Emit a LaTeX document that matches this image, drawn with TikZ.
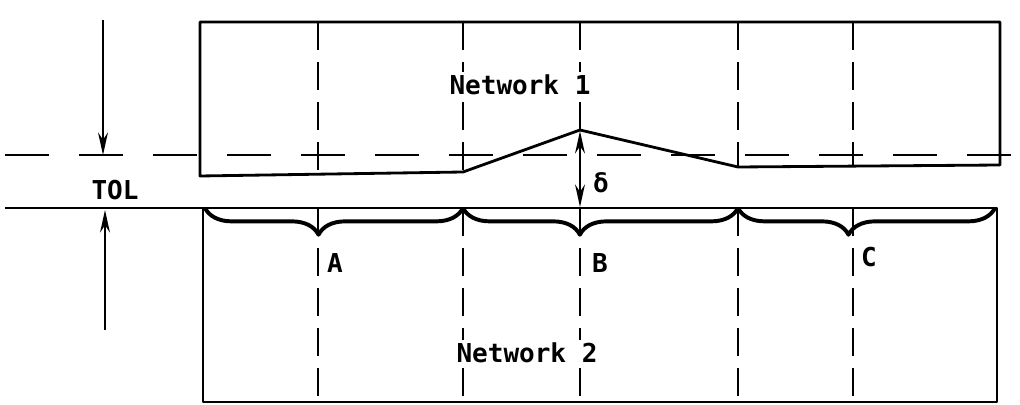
\documentclass[tikz,border=0pt]{standalone}
\usepackage{fontspec}
\setmonofont{DejaVu Sans Mono}
\usetikzlibrary{arrows.meta, decorations.pathreplacing, calc}
\tikzstyle{edge} = [line width=2pt, line join=round]
\tikzstyle{grid} = [line width=1.7pt, dash pattern=on 0.7cm off 0.3cm]
\tikzstyle{level} = [line width=1.6pt, dash pattern=on 1.1cm off 0.75cm]
\tikzstyle{lbl} = [font=\ttfamily\bfseries\fontsize{18.5}{21}\selectfont, inner sep=2pt, fill=white]
\tikzstyle{arrow} = [line width=1.6pt, -{Stealth[length=16pt,width=7pt]}]
\tikzstyle{span} = [line width=2.8pt, line join=round, decorate, decoration={brace, mirror, amplitude=19pt}]

\begin{document}
\begin{tikzpicture}[x=0.025cm, y=-0.025cm]
\useasboundingbox (0,0) rectangle (1020,405);

% network 1 outline with the bump
\draw[edge] (200,176) -- (200,22) -- (1000,22) -- (1000,165) -- (738,167)
  -- (580,130) -- (463,172) -- cycle;
% network 2
\draw[edge] (5,208) -- (203,208);
\draw[edge] (203,208) rectangle (997,402);

% tolerance level
\draw[level] (5,155) -- (1012,155);

% partition lines
\foreach \x/\y in {318/174, 463/172, 580/130, 738/167, 853/166} {
  \draw[grid] (\x,22) -- (\x,\y);
  \draw[grid] (\x,208) -- (\x,402);
}

% regions
\draw[span] (205,208) -- (463,208) [decoration={aspect=0.44}];
\draw[span] (463,208) -- (738,208) [decoration={aspect=0.425}];
\draw[span] (738,208) -- (995,208) [decoration={aspect=0.43}];

\node (labA) [lbl] at (335,263) {A};
\node (labB) [lbl] at (600,263) {B};
\node (labC) [lbl] at (869,257) {C};
\node (net1) [lbl] at (520,85) {Network 1};
\node (net2) [lbl] at (527,353) {Network 2};
\node (tol) [lbl] at (115,190) {TOL};
\node (delta) [lbl] at (601,183) {δ};

% tolerance arrows
\coordinate (tolHi) at (103,20);
\coordinate (tolHiEnd) at (103,155);
\coordinate (tolLo) at (105,330);
\coordinate (tolLoEnd) at (105,210);
\draw[arrow] (tolHi) -- (tolHiEnd);
\draw[arrow] (tolLo) -- (tolLoEnd);

% deviation
\coordinate (peak) at (580,131);
\coordinate (base) at (580,207);
\draw[line width=1.6pt, {Stealth[length=16pt,width=7pt]}-{Stealth[length=16pt,width=7pt]}] (peak) -- (base);
\end{tikzpicture}
\end{document}
